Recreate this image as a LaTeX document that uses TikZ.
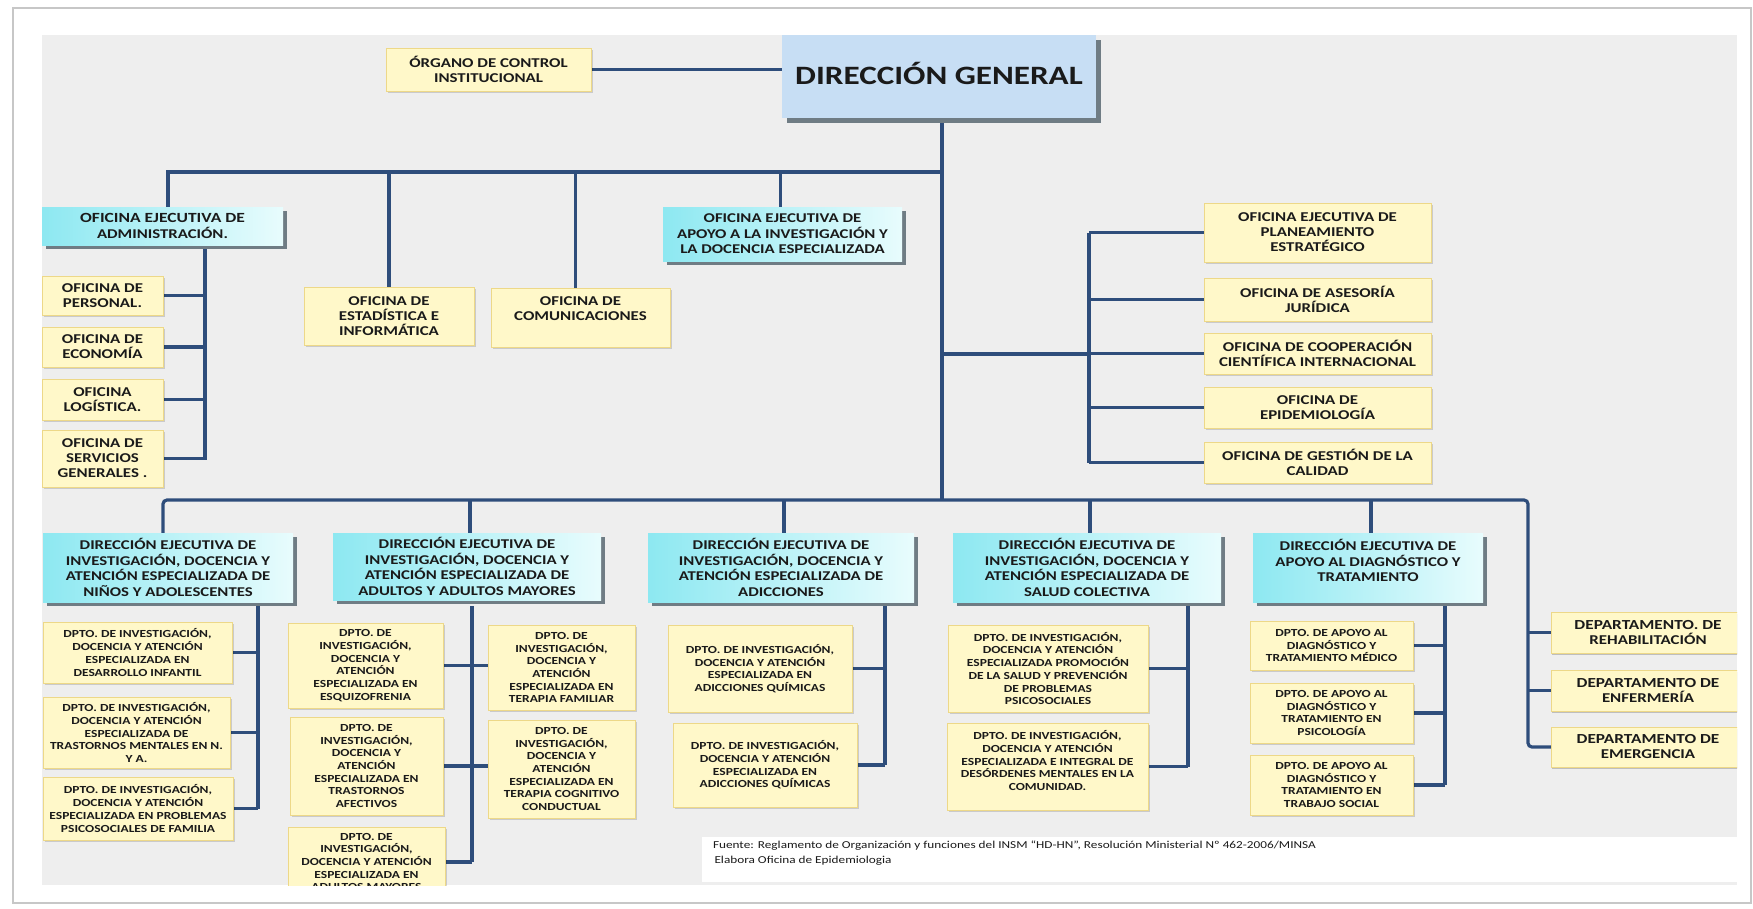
\documentclass[tikz,border=0pt]{standalone}
\usepackage{fontspec}
\setmainfont{Carlito}[FakeStretch=1.25]
\usetikzlibrary{shadows}
\pgfdeclarelayer{back}
\pgfdeclarelayer{lines}
\pgfsetlayers{back,lines,main}
\definecolor{bgc}{HTML}{EEEEEE}
\definecolor{yelf}{HTML}{FFF8C9}
\definecolor{yeld}{HTML}{EDD888}
\definecolor{cyl}{HTML}{8DE8F1}
\definecolor{cyr}{HTML}{E8FCFD}
\definecolor{shd}{HTML}{6F7C84}
\definecolor{dgc}{HTML}{C7DEF4}
\definecolor{lnc}{HTML}{2E4D7B}
\definecolor{txc}{HTML}{1A1A1A}
\tikzset{
  every node/.style={inner sep=0pt, outer sep=0pt},
  ybox/.style={rectangle, fill=yelf, draw=yeld, line width=1pt,
    drop shadow={shadow xshift=1.5pt, shadow yshift=-1.5pt, fill=black, opacity=0.15}},
  rbox/.style={rectangle, fill=yelf, draw=yeld, line width=1pt,
    drop shadow={shadow xshift=1pt, shadow yshift=-2pt, fill=black!60, opacity=0.35}},
  cbox/.style={rectangle, left color=cyl, right color=cyr,
    drop shadow={shadow xshift=4pt, shadow yshift=-4pt, fill=shd, opacity=1}},
  gbox/.style={rectangle, fill=dgc,
    drop shadow={shadow xshift=5pt, shadow yshift=-5pt, fill=shd, opacity=1}},
  otxt/.style={align=center, text=txc, font=\bfseries\fontsize{13.5}{15}\selectfont},
  ctxt/.style={align=center, text=txc, font=\bfseries\fontsize{13.4}{15.6}\selectfont},
  ptxt/.style={align=center, text=txc, font=\bfseries\fontsize{10.8}{12.7}\selectfont},
  gtxt/.style={align=center, text=txc, font=\bfseries\fontsize{26.5}{30}\selectfont},
  ln/.style={draw=lnc, line width=3.2pt},
}
% #1 text y-offset, #2 name, #3 box style, #4 text style, #5 x1, #6 y1, #7 x2, #8 y2, #9 text
\newcommand\bx[9][0]{%
  \pgfmathsetmacro\bxw{#7-#5}\pgfmathsetmacro\bxh{#8-#6}%
  \pgfmathsetmacro\bxcx{(#5+#7)/2}\pgfmathsetmacro\bxcy{(#6+#8)/2}%
  \node[#3, minimum width=\bxw pt, minimum height=\bxh pt] (#2) at (\bxcx,\bxcy) {};
  \node[#4] (#2-t) at (\bxcx,\bxcy+#1) {#9};
}
\begin{document}
\begin{tikzpicture}[x=1pt,y=-1pt]
\useasboundingbox (0,0) rectangle (1753,908);
\begin{pgfonlayer}{back}
  \fill[white] (0,0) rectangle (1753,908);
  \draw[black!22, line width=1.5pt] (13,8) rectangle (1751,903);
  \fill[bgc] (42,35) rectangle (1737,885);
  \fill[white] (702,837) rectangle (1737,882);
\end{pgfonlayer}

\begin{scope}
\clip (42,35) rectangle (1737,885);
% top level
\bx{org}{ybox}{otxt}{386}{48}{591}{91}{ÓRGANO DE CONTROL\\INSTITUCIONAL}
\bx[-3.5]{dg}{gbox}{gtxt}{782}{35}{1096}{118}{DIRECCIÓN GENERAL}
% administration
\bx{adm}{cbox}{ctxt}{42}{207}{283}{245}{\fontsize{14}{16}\selectfont OFICINA EJECUTIVA DE\\ADMINISTRACIÓN.}
\bx{per}{ybox}{otxt}{42}{276}{163}{315}{OFICINA DE\\PERSONAL.}
\bx{eco}{ybox}{otxt}{42}{327}{163}{367}{OFICINA DE\\ECONOMÍA}
\bx{log}{ybox}{otxt}{42}{379}{163}{420}{OFICINA\\LOGÍSTICA.}
\bx{ser}{ybox}{otxt}{42}{430}{163}{487}{OFICINA DE\\SERVICIOS\\GENERALES .}
\bx{est}{ybox}{otxt}{304}{287}{474}{345}{OFICINA DE\\ESTADÍSTICA E\\INFORMÁTICA}
\bx[-9]{com}{ybox}{otxt}{491}{288}{670}{347}{OFICINA  DE\\COMUNICACIONES}
\bx{api}{cbox}{ctxt}{663}{207}{902}{261}{OFICINA EJECUTIVA  DE\\APOYO A LA INVESTIGACIÓN Y\\LA DOCENCIA ESPECIALIZADA}
% right offices
\bx{pla}{ybox}{otxt}{1204}{203}{1431}{262}{OFICINA EJECUTIVA DE\\PLANEAMIENTO\\ESTRATÉGICO}
\bx{ase}{ybox}{otxt}{1204}{278}{1431}{321}{OFICINA DE ASESORÍA\\JURÍDICA}
\bx{coo}{ybox}{otxt}{1204}{333}{1431}{374}{OFICINA DE COOPERACIÓN\\CIENTÍFICA INTERNACIONAL}
\bx{epi}{ybox}{otxt}{1204}{387}{1431}{428}{OFICINA DE\\EPIDEMIOLOGÍA}
\bx{cal}{ybox}{otxt}{1204}{442}{1431}{483}{OFICINA DE GESTIÓN DE LA\\CALIDAD}
% executive directions
\bx{nin}{cbox}{ctxt}{43}{533}{293}{602}{DIRECCIÓN EJECUTIVA DE\\INVESTIGACIÓN, DOCENCIA Y\\ATENCIÓN ESPECIALIZADA DE\\NIÑOS Y ADOLESCENTES}
\bx{adu}{cbox}{ctxt}{333}{533}{601}{600}{DIRECCIÓN EJECUTIVA DE\\INVESTIGACIÓN, DOCENCIA Y\\ATENCIÓN ESPECIALIZADA DE\\ADULTOS Y ADULTOS MAYORES}
\bx{adi}{cbox}{ctxt}{648}{533}{914}{602}{DIRECCIÓN EJECUTIVA DE\\INVESTIGACIÓN, DOCENCIA Y\\ATENCIÓN ESPECIALIZADA DE\\ADICCIONES}
\bx{sal}{cbox}{ctxt}{953}{533}{1221}{602}{DIRECCIÓN EJECUTIVA DE\\INVESTIGACIÓN, DOCENCIA Y\\ATENCIÓN ESPECIALIZADA DE\\SALUD COLECTIVA}
\bx[-7]{apd}{cbox}{ctxt}{1253}{533}{1483}{602}{DIRECCIÓN EJECUTIVA DE\\APOYO AL DIAGNÓSTICO Y\\TRATAMIENTO}
% departments ninos
\bx{n1}{ybox}{ptxt}{43}{622}{232}{683}{DPTO. DE  INVESTIGACIÓN,\\DOCENCIA Y ATENCIÓN\\ESPECIALIZADA EN\\DESARROLLO INFANTIL}
\bx{n2}{ybox}{ptxt}{43}{697}{230}{768}{DPTO. DE  INVESTIGACIÓN,\\DOCENCIA Y ATENCIÓN\\ESPECIALIZADA  DE\\TRASTORNOS MENTALES EN N.\\Y A.}
\bx{n3}{ybox}{ptxt}{43}{777}{233}{840}{DPTO. DE  INVESTIGACIÓN,\\DOCENCIA Y ATENCIÓN\\ESPECIALIZADA EN PROBLEMAS\\PSICOSOCIALES DE FAMILIA}
% adultos
\bx{a1}{ybox}{ptxt}{288}{623}{443}{708}{DPTO. DE\\INVESTIGACIÓN,\\DOCENCIA Y\\ATENCIÓN\\ESPECIALIZADA EN\\ESQUIZOFRENIA}
\bx{a2}{ybox}{ptxt}{290}{717}{443}{815}{DPTO. DE\\INVESTIGACIÓN,\\DOCENCIA Y\\ATENCIÓN\\ESPECIALIZADA EN\\TRASTORNOS\\AFECTIVOS}
\bx{a3}{ybox}{ptxt}{288}{827}{445}{897}{DPTO. DE\\INVESTIGACIÓN,\\DOCENCIA Y ATENCIÓN\\ESPECIALIZADA EN\\ADULTOS MAYORES}
\bx{a4}{ybox}{ptxt}{488}{625}{635}{710}{DPTO. DE\\INVESTIGACIÓN,\\DOCENCIA Y\\ATENCIÓN\\ESPECIALIZADA EN\\TERAPIA FAMILIAR}
\bx{a5}{ybox}{ptxt}{488}{720}{635}{818}{DPTO. DE\\INVESTIGACIÓN,\\DOCENCIA Y\\ATENCIÓN\\ESPECIALIZADA EN\\TERAPIA COGNITIVO\\CONDUCTUAL}
% adicciones
\bx{d1}{ybox}{ptxt}{668}{625}{852}{712}{DPTO. DE  INVESTIGACIÓN,\\DOCENCIA Y ATENCIÓN\\ESPECIALIZADA EN\\ADICCIONES QUÍMICAS}
\bx{d2}{ybox}{ptxt}{673}{723}{857}{807}{DPTO. DE  INVESTIGACIÓN,\\DOCENCIA Y ATENCIÓN\\ESPECIALIZADA EN\\ADICCIONES QUÍMICAS}
% salud colectiva
\bx{s1}{ybox}{ptxt}{948}{625}{1148}{712}{DPTO. DE  INVESTIGACIÓN,\\DOCENCIA Y ATENCIÓN\\ESPECIALIZADA PROMOCIÓN\\DE LA SALUD Y PREVENCIÓN\\DE PROBLEMAS\\PSICOSOCIALES}
\bx[-6]{s2}{ybox}{ptxt}{947}{723}{1148}{810}{DPTO. DE  INVESTIGACIÓN,\\DOCENCIA Y ATENCIÓN\\ESPECIALIZADA E INTEGRAL DE\\DESÓRDENES MENTALES EN LA\\COMUNIDAD.}
% apoyo diagnostico
\bx{p1}{ybox}{ptxt}{1250}{621}{1413}{670}{DPTO. DE APOYO AL\\DIAGNÓSTICO Y\\TRATAMIENTO MÉDICO}
\bx{p2}{ybox}{ptxt}{1250}{683}{1413}{743}{DPTO. DE APOYO AL\\DIAGNÓSTICO Y\\TRATAMIENTO EN\\PSICOLOGÍA}
\bx{p3}{ybox}{ptxt}{1250}{755}{1413}{815}{DPTO. DE APOYO AL\\DIAGNÓSTICO Y\\TRATAMIENTO EN\\TRABAJO SOCIAL}
% departamentos
\bx{r1}{rbox}{otxt}{1551}{612}{1745}{653}{\fontsize{13.8}{15}\selectfont DEPARTAMENTO. DE\\REHABILITACIÓN}
\bx{r2}{rbox}{otxt}{1551}{670}{1745}{711}{\fontsize{13.8}{15}\selectfont DEPARTAMENTO DE\\ENFERMERÍA}
\bx{r3}{rbox}{otxt}{1551}{727}{1745}{767}{\fontsize{13.8}{15}\selectfont DEPARTAMENTO DE\\EMERGENCIA}
\end{scope}

\node[anchor=north west, align=left, text=txc, font=\fontsize{10.6}{14.5}\selectfont] (fn) at (713,841)
  {Fuente: Reglamento de Organización y funciones del INSM “HD-HN”, Resolución Ministerial Nº 462-2006/MINSA\\
   \hspace{1.5pt}Elabora Oficina de Epidemiologia};

% junction coordinates
\coordinate (tbL) at (168,172);
\coordinate (tbM) at (942,172);
\coordinate (bbL) at (163,500);
\coordinate (bbR) at (1528,500);
\coordinate (rJ) at (1089,354);
\coordinate (aX) at (205,460);
\coordinate (nX) at (258,606);
\coordinate (uX) at (472,606);
\coordinate (dX) at (885,606);
\coordinate (sX) at (1188,606);
\coordinate (pX) at (1445,606);

\begin{pgfonlayer}{lines}
  \draw[ln] (org.east) -- (org.east -| dg.west);
  \draw[ln] (tbM |- dg.south) -- (tbM |- bbL);
  \draw[ln] (tbL |- adm.north) -- (tbL) -- (tbM);
  \draw[ln] (est.north) -- (est.north |- tbL);
  \draw[ln] ([xshift=-5pt]com.north) -- ([xshift=-5pt]com.north |- tbL);
  \draw[ln] ([xshift=-2pt]api.north) -- ([xshift=-2pt]api.north |- tbL);
  % administration
  \draw[ln] (aX |- adm.south) -- (aX);
  \foreach \n in {per,eco,log,ser} \draw[ln] (\n.east) -- (\n.east -| aX);
  % right offices
  \draw[ln] (tbM |- rJ) -- (rJ);
  \draw[ln] (rJ |- pla.west) -- (rJ |- cal.west);
  \foreach \n in {pla,ase,coo,epi,cal} \draw[ln] (\n.west) -- (\n.west -| rJ);
  % bottom bus
  \draw[ln, rounded corners=4pt] (bbL |- nin.north) -- (bbL) -- (bbR) -- (bbR |- r3.west) -- (r3.west);
  \draw[ln] (r1.west) -- (r1.west -| bbR);
  \draw[ln] (r2.west) -- (r2.west -| bbR);
  \foreach \n in {adu,adi,sal,apd} \draw[ln] ([xshift=3pt]\n.north) -- ([xshift=3pt]\n.north |- bbL);
  % ninos
  \draw[ln] (nX) -- (nX |- n3.east);
  \foreach \n in {n1,n2,n3} \draw[ln] (\n.east) -- (\n.east -| nX);
  % adultos
  \draw[ln] (uX) -- (uX |- a3.east);
  \draw[ln] (a1.east) -- (a1.east -| a4.west);
  \draw[ln] (a2.east) -- (a2.east -| a5.west);
  \draw[ln] (a3.east) -- (a3.east -| uX);
  % adicciones
  \draw[ln] (dX) -- (dX |- d2.east);
  \foreach \n in {d1,d2} \draw[ln] (\n.east) -- (\n.east -| dX);
  % salud
  \draw[ln] (sX) -- (sX |- s2.east);
  \foreach \n in {s1,s2} \draw[ln] (\n.east) -- (\n.east -| sX);
  % apoyo
  \draw[ln] (pX) -- (pX |- p3.east);
  \foreach \n in {p1,p2,p3} \draw[ln] (\n.east) -- (\n.east -| pX);
\end{pgfonlayer}
\end{tikzpicture}
\end{document}
